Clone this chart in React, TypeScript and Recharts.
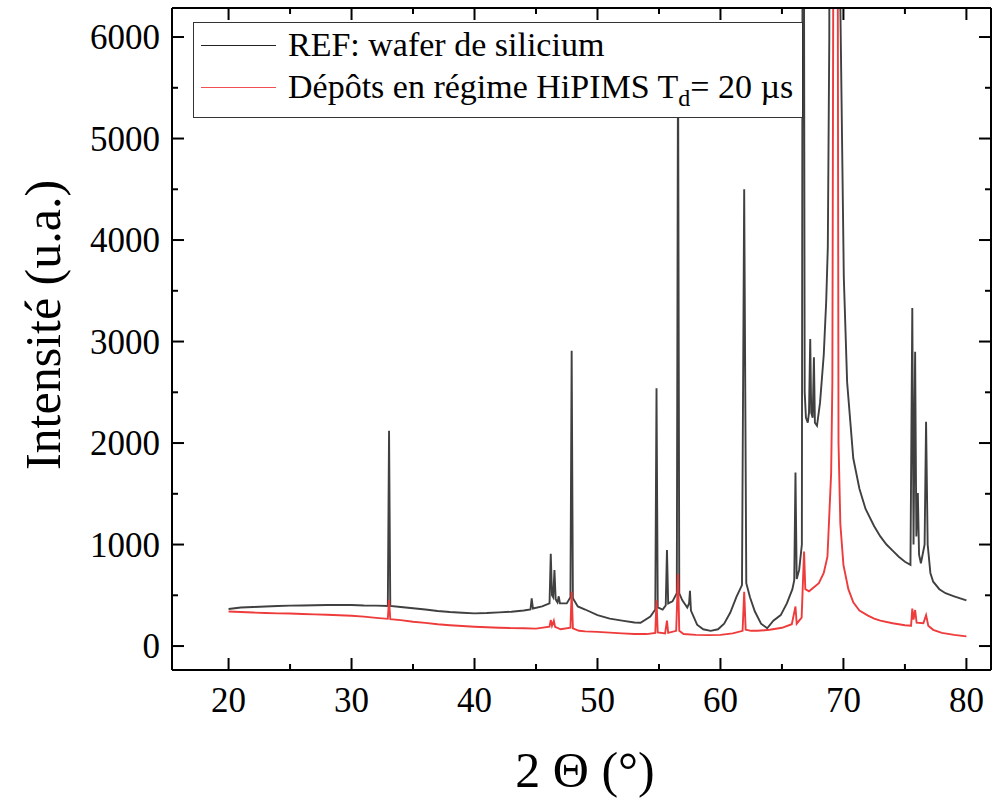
import React from 'react'
import { LineChart, Line, XAxis, YAxis } from 'recharts'

// REF: wafer de silicium
const refTheta = [
  20, 21, 22, 23, 24, 25, 26, 27, 28, 29, 30, 31, 32, 32.95, 33.05, 33.15, 34, 35, 36, 37, 38, 39, 40,
  41, 42, 43, 44, 44.55, 44.65, 44.75, 45.5, 46.1, 46.2, 46.3, 46.4, 46.5, 46.6, 46.75, 46.85, 46.95,
  47.5, 47.8, 47.9, 48.0, 48.4, 49, 50, 51, 52, 53, 53.5, 54.3, 54.7, 54.8, 54.9, 55.3, 55.55, 55.65,
  55.75, 56.1, 56.45, 56.55, 56.65, 56.9, 57.3, 57.45, 57.52, 57.6, 58.1, 58.6, 59.2, 59.8, 60.3, 60.8,
  61.3, 61.75, 61.93, 62.1, 62.4, 62.8, 63.3, 63.8, 64.3, 64.9, 65.4, 65.85, 66.0, 66.1, 66.2, 66.4,
  66.62, 66.72, 66.85, 66.95, 67.1, 67.2, 67.3, 67.38, 67.5, 67.6, 67.68, 67.85, 68.1, 68.4, 68.6,
  68.73, 68.85, 69.3, 69.75, 70.03, 70.3, 70.8, 71.3, 71.8, 72.5, 73, 73.5, 74, 74.5, 75, 75.45, 75.6,
  75.7, 75.83, 75.93, 76.05, 76.15, 76.3, 76.6, 76.72, 76.85, 77.07, 77.3, 77.8, 78.3, 79, 79.5, 80,
]
const refCounts = [
  365, 380, 385, 390, 395, 398, 400, 402, 405, 405, 405, 400, 398, 395, 2120, 395, 385, 372, 360, 345, 335, 328, 322,
  325, 332, 338, 350, 360, 470, 370, 390, 420, 910, 500, 480, 750, 460, 430, 490, 420,
  420, 480, 2910, 470, 390, 360, 305, 270, 250, 232, 230, 290, 360, 2540, 380, 360, 400, 946,
  420, 440, 520, 6000, 520, 450, 380, 420, 545, 350, 210, 165, 150, 165, 220, 330,
  485, 600, 4500, 620, 480, 340, 220, 175, 250, 305, 420, 560, 650, 1710, 660, 750,
  1000, 12000, 2500, 2250, 2200, 2300, 3025, 2300, 2250, 2845, 2200, 2170, 2400, 2870, 3400,
  3930, 6000, 60000, 6300, 3635, 2600, 1850, 1550, 1350, 1180, 1080, 1000, 940, 880, 830, 800, 3330,
  1000, 2900, 1080, 1507, 900, 815, 1000, 2210, 1000, 720, 634, 560, 520, 490, 470, 450,
]

// Dépôts en régime HiPIMS Td = 20 µs
const depTheta = [
  20, 21, 22, 23, 24, 25, 26, 27, 28, 29, 30, 31, 32, 32.95, 33.05, 33.15, 34, 35, 36, 37, 38, 39, 40,
  41, 42, 43, 44, 45, 46.1, 46.2, 46.3, 46.45, 46.55, 47, 47.8, 47.9, 48.0, 48.5, 49, 50, 51, 52, 53, 54,
  54.7, 54.8, 54.9, 55.5, 55.65, 55.75, 56.4, 56.55, 56.65, 57, 58, 59, 60, 61, 61.8, 61.93, 62.05,
  62.5, 63, 64, 65, 65.8, 66.1, 66.2, 66.6, 66.8, 66.9, 67.2, 67.6, 68, 68.4, 68.7, 69.0, 69.1, 69.2,
  69.38, 69.52, 69.6, 69.75, 70, 70.4, 70.8, 71.3, 72, 72.5, 73, 74, 75, 75.5, 75.6, 75.7, 75.83,
  75.95, 76.5, 76.72, 76.9, 77.3, 78, 79, 80,
]
const depCounts = [
  340, 335, 330, 325, 322, 320, 315, 312, 308, 303, 298, 290, 278, 268, 455, 265, 255, 240, 228, 215, 205, 197, 190,
  185, 180, 177, 175, 172, 190, 256, 200, 250, 190, 165, 180, 535, 175, 150, 145, 140, 132, 125, 118, 118,
  130, 450, 135, 125, 250, 130, 150, 710, 150, 118, 110, 108, 110, 125, 150, 535, 160,
  150, 150, 160, 180, 215, 390, 220, 280, 930, 560, 540, 580, 620, 720, 880, 1700, 2600, 8000,
  40000, 8000, 2000, 1200, 800, 560, 430, 350, 300, 270, 250, 225, 205, 200, 370, 260, 355,
  230, 225, 305, 200, 160, 130, 110, 95,
]

const xTicks = [20, 25, 30, 35, 40, 45, 50, 55, 60, 65, 70, 75, 80]
const yTicks = [0, 500, 1000, 1500, 2000, 2500, 3000, 3500, 4000, 4500, 5000, 5500, 6000]

const refData = refTheta.map((x, i) => ({ x, y: refCounts[i] }))
const depData = depTheta.map((x, i) => ({ x, y: depCounts[i] }))

const FONT = '"Liberation Serif", "Times New Roman", serif'
const MAJOR = 12
const MINOR = 6

const BottomTick = (props: any) => {
  const { x, y, payload } = props
  const major = payload.value % 10 === 0
  return (
    <g>
      <line x1={x} x2={x} y1={y} y2={y - (major ? MAJOR : MINOR)} stroke="#000" strokeWidth={2} />
      {major && (
        <text x={x} y={y + 42} textAnchor="middle" fontFamily={FONT} fontSize={35} fill="#000">
          {payload.value}
        </text>
      )}
    </g>
  )
}

const TopTick = (props: any) => {
  const { x, y, payload } = props
  const major = payload.value % 10 === 0
  return <line x1={x} x2={x} y1={y} y2={y + (major ? MAJOR : MINOR)} stroke="#000" strokeWidth={2} />
}

const LeftTick = (props: any) => {
  const { x, y, payload } = props
  const major = payload.value % 1000 === 0
  return (
    <g>
      <line x1={x} x2={x + (major ? MAJOR : MINOR)} y1={y} y2={y} stroke="#000" strokeWidth={2} />
      {major && (
        <text x={x - 12} y={y + 12} textAnchor="end" fontFamily={FONT} fontSize={35} fill="#000">
          {payload.value}
        </text>
      )}
    </g>
  )
}

const RightTick = (props: any) => {
  const { x, y, payload } = props
  const major = payload.value % 1000 === 0
  return <line x1={x} x2={x - (major ? MAJOR : MINOR)} y1={y} y2={y} stroke="#000" strokeWidth={2} />
}

const axisLine = { stroke: '#000', strokeWidth: 2 }

export default function App() {
  return (
    <div style={{ position: 'absolute', left: 0, top: 0, width: 992, height: 798, background: '#fff' }}>
      <LineChart width={992} height={798} margin={{ top: 7, right: 0, bottom: 127, left: 171 }}>
        <XAxis
          dataKey="x"
          type="number"
          domain={[15.4, 82]}
          ticks={xTicks}
          allowDataOverflow
          height={1}
          tickSize={0}
          tickMargin={0}
          tickLine={false}
          axisLine={axisLine}
          tick={BottomTick}
          interval={0}
        />
        <XAxis
          xAxisId="top"
          orientation="top"
          dataKey="x"
          type="number"
          domain={[15.4, 82]}
          ticks={xTicks}
          allowDataOverflow
          height={1}
          tickSize={0}
          tickMargin={0}
          tickLine={false}
          axisLine={axisLine}
          tick={TopTick}
          interval={0}
        />
        <YAxis
          type="number"
          domain={[-236, 6286]}
          ticks={yTicks}
          allowDataOverflow
          width={1}
          tickSize={0}
          tickMargin={0}
          tickLine={false}
          axisLine={axisLine}
          tick={LeftTick}
          interval={0}
        />
        <YAxis
          yAxisId="right"
          orientation="right"
          type="number"
          domain={[-236, 6286]}
          ticks={yTicks}
          allowDataOverflow
          width={1}
          tickSize={0}
          tickMargin={0}
          tickLine={false}
          axisLine={axisLine}
          tick={RightTick}
          interval={0}
        />
        <Line
          data={refData}
          dataKey="y"
          stroke="#404040"
          strokeWidth={1.9}
          dot={false}
          isAnimationActive={false}
        />
        <Line
          data={depData}
          dataKey="y"
          stroke="#ee3b3b"
          strokeWidth={1.9}
          dot={false}
          isAnimationActive={false}
        />
      </LineChart>

      <div
        style={{
          position: 'absolute',
          left: 193,
          top: 22,
          width: 608,
          height: 94,
          border: '1px solid #333',
          background: '#fff',
          fontFamily: FONT,
          fontSize: 34,
          color: '#000',
        }}
      >
        <div style={{ position: 'absolute', left: 7, top: 22, width: 75, borderTop: '1px solid #222' }} />
        <div style={{ position: 'absolute', left: 94, top: 2, whiteSpace: 'nowrap', lineHeight: '40px' }}>
          REF: wafer de silicium
        </div>
        <div style={{ position: 'absolute', left: 7, top: 64, width: 75, borderTop: '1px solid #f05050' }} />
        <div style={{ position: 'absolute', left: 94, top: 44, whiteSpace: 'nowrap', lineHeight: '40px' }}>
          Dépôts en régime HiPIMS T<sub style={{ fontSize: 24, verticalAlign: -8, lineHeight: 0 }}>d</sub>= 20 µs
        </div>
      </div>

      <div
        style={{
          position: 'absolute',
          left: 43,
          top: 325,
          transform: 'translate(-50%, -50%) rotate(-90deg)',
          whiteSpace: 'nowrap',
          fontFamily: FONT,
          fontSize: 50,
          color: '#000',
        }}
      >
        Intensité (u.a.)
      </div>
      <div
        style={{
          position: 'absolute',
          left: 585,
          top: 770,
          transform: 'translate(-50%, -50%)',
          whiteSpace: 'nowrap',
          fontFamily: FONT,
          fontSize: 50,
          color: '#000',
        }}
      >
        2 Θ (°)
      </div>
    </div>
  )
}
